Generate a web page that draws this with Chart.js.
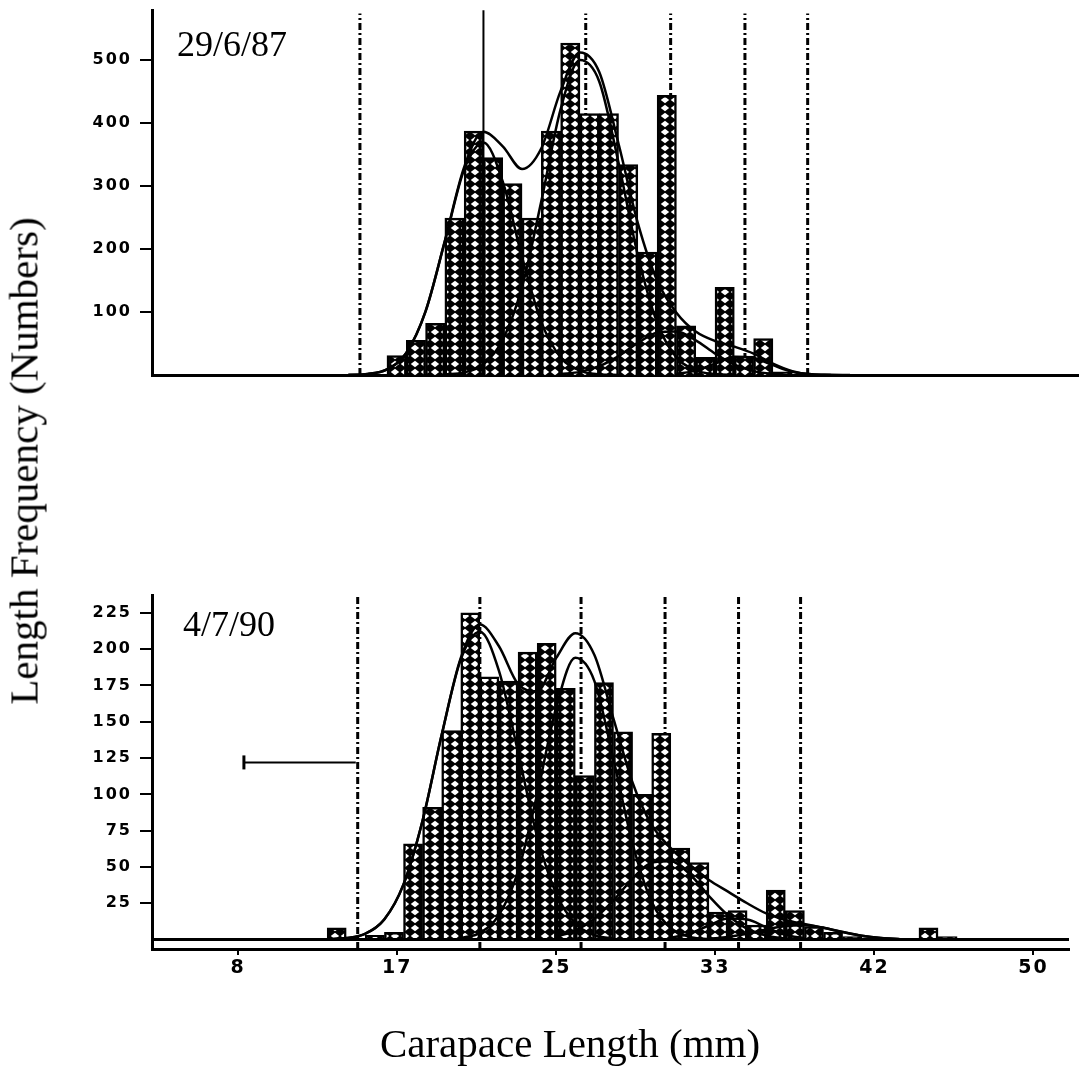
<!DOCTYPE html>
<html>
<head>
<meta charset="utf-8">
<script src="https://cdn.jsdelivr.net/npm/chart.js@4.4.1/dist/chart.umd.min.js"></script>
<style>
  body { margin: 0; background: #fff; width: 1079px; height: 1071px; position: relative; overflow: hidden; }
  canvas { position: absolute; left: 0; }
  #c87 { top: 0; }
  #c90 { top: 580px; }
  .txt { position: absolute; font-family: "Liberation Serif", "Times New Roman", serif; color: #000; line-height: 1; white-space: nowrap; }
</style>
</head>
<body>
<canvas id="c87" width="1079" height="400"></canvas>
<canvas id="c90" width="1079" height="491"></canvas>
<div class="txt" style="left:177px; top:26px; font-size:36px;">29/6/87</div>
<div class="txt" style="left:183px; top:606px; font-size:36px;">4/7/90</div>
<div class="txt" style="left:24px; top:461px; font-size:41px; transform: translate(-50%, -50%) rotate(-90deg);">Length Frequency (Numbers)</div>
<div class="txt" style="left:570px; top:1023px; font-size:41px; transform: translateX(-50%);">Carapace Length (mm)</div>
<script>
// length classes (mm, lower edge of each 1 mm class) and counts
const classes87 = [16, 17, 18, 19, 20, 21, 22, 23, 24, 25, 26, 27, 28, 29, 30, 31, 32, 33, 34, 35, 36];
const counts87  = [31, 55, 82, 249, 387, 345, 304, 249, 387, 527, 415, 415, 334, 195, 444, 78, 28, 139, 30, 58, 5];

const classes90 = [13, 15, 16, 17, 18, 19, 20, 21, 22, 23, 24, 25, 26, 27, 28, 29, 30, 31, 32, 33, 34, 35, 36, 37, 38, 39, 40, 41, 44, 45];
const counts90  = [8, 3, 5, 66, 91, 144, 225, 181, 178, 198, 204, 173, 113, 177, 143, 100, 142, 63, 53, 19, 20, 10, 34, 20, 9, 5, 2, 1, 8, 2];

// fitted normal components and their sum (1 mm steps)
const curveX87 = [14, 15, 16, 17, 18, 19, 20, 21, 22, 23, 24, 25, 26, 27, 28, 29, 30, 31, 32, 33, 34, 35, 36, 37, 38, 39, 40];
const fitA87 = [0.2, 1.7, 9, 35, 101, 212, 326, 369, 307, 187, 84, 28, 7, 1.2, 0, null, null, null, null, null, null, null, null, null, null, null, null];
const fitB87 = [null, null, null, null, null, 1, 4, 17, 56, 140, 276, 422, 500, 466, 337, 190, 83, 28, 7.5, 1.5, 0, null, null, null, null, null, null];
const fitC87 = [null, null, null, null, null, null, null, null, null, null, null, 1.4, 5, 14, 30, 51, 67, 69, 55, 34, 16.5, 6.2, 1.9, 0.4, null, null, null];
const fitD87 = [null, null, null, null, null, null, null, null, null, null, null, null, null, null, null, null, null, 1.6, 6.9, 18, 29, 27, 15.6, 5.3, 1.1, 0.1, null];
const fitSum87 = [0.3, 1.7, 9, 35, 101, 213, 330, 386, 363, 327, 360, 451, 512, 481, 367, 241, 150, 99, 69, 54, 45, 34, 18, 6, 1, 0.2, 0];

const curveX90 = [12, 13, 14, 15, 16, 17, 18, 19, 20, 21, 22, 23, 24, 25, 26, 27, 28, 29, 30, 31, 32, 33, 34, 35, 36, 37, 38, 39, 40, 41, 42, 43, 44, 45];
const fitA90 = [null, 0.2, 1, 4.1, 14, 38, 82, 141, 193, 212, 185, 129, 71, 31.5, 11, 3.1, 0.7, null, null, null, null, null, null, null, null, null, null, null, null, null, null, null, null, null];
const fitB90 = [null, null, null, null, null, null, null, null, 1, 4.6, 17, 47, 100, 160, 194, 178, 124, 66, 26, 8, 1.8, 0.3, null, null, null, null, null, null, null, null, null, null, null, null];
const fitC90 = [null, null, null, null, null, null, null, null, null, null, null, null, null, 2.1, 6.2, 14.4, 27, 42, 53, 54, 45, 30, 16.7, 7.4, 2.7, 0.8, null, null, null, null, null, null, null, null];
const fitD90 = [null, null, null, null, null, null, null, null, null, null, null, null, null, null, null, null, null, null, null, 1.1, 4.2, 9.7, 14.5, 13.8, 8.5, 3.3, 0.8, null, null, null, null, null, null, null];
const fitE90 = [null, null, null, null, null, null, null, null, null, null, null, null, null, null, null, null, null, null, null, null, null, 0.6, 1.8, 4, 7, 9.4, 9.9, 8.1, 5.2, 2.6, 1, 0.3, null, null];
const fitSum90 = [0, 0.2, 1, 4, 14, 38, 82, 141, 194, 217, 202, 176, 171, 194, 211, 196, 152, 108, 79, 63, 51, 41, 33, 25, 18, 13.5, 10.7, 8.1, 5.2, 2.6, 1, 0.3, 0, 0];

// dash-dot cohort lines (mm) and the range marker in the lower panel
const cohortLines = [14.6, 21.0, 26.3, 30.7, 34.55, 37.8];
const rangeMarkX = [8.64, 14.5];
const rangeMarkY = 122;

// axes
const xTicks = [8.333, 16.667, 25, 33.333, 41.667, 50];
const xTickLabels = ['8', '17', '25', '33', '42', '50'];
const yTicks87 = [100, 200, 300, 400, 500];
const yTicks90 = [25, 50, 75, 100, 125, 150, 175, 200, 225];
const xMin = 3.825, xMax = 51.86;

function hatch() {
  const t = document.createElement('canvas');
  t.width = 10; t.height = 8;
  const g = t.getContext('2d');
  g.fillStyle = '#000';
  g.fillRect(0, 0, 10, 8);
  g.fillStyle = '#fff';
  g.beginPath();
  g.moveTo(5, 0.8); g.lineTo(9.2, 4); g.lineTo(5, 7.2); g.lineTo(0.8, 4);
  g.closePath();
  g.fill();
  return g.createPattern(t, 'repeat');
}
const pattern = hatch();

function pts(xs, ys) {
  return xs.map((x, i) => ({ x: x, y: ys[i] }));
}

function barSet(cls, cnt) {
  return {
    type: 'bar',
    data: cls.map((c, i) => ({ x: c + 0.5, y: cnt[i] })),
    backgroundColor: pattern,
    borderColor: '#000',
    borderWidth: 2.5,
    barPercentage: 1,
    categoryPercentage: 1,
    order: 1
  };
}

function curve(xs, ys) {
  return {
    type: 'line', data: pts(xs, ys),
    borderColor: '#000', borderWidth: 2.5, pointRadius: 0,
    cubicInterpolationMode: 'monotone', spanGaps: false, order: 0
  };
}

function vline(x, lo, hi, solid) {
  return {
    type: 'line', data: [{ x: x, y: lo }, { x: x, y: hi }],
    borderColor: '#000', borderWidth: solid ? 2 : 3,
    borderDash: solid ? [] : [7, 3, 2, 3], pointRadius: 0, order: 2
  };
}

// wide look of the old plotter digits
const spacing = {
  id: 'spacing',
  beforeDraw(chart) { chart.ctx.letterSpacing = '2px'; },
  afterDraw(chart) { chart.ctx.letterSpacing = '0px'; }
};

function makeChart(id, datasets, yMin, yMax, yTicks, showX, padTop, xHeight) {
  return new Chart(document.getElementById(id), {
    type: 'bar',
    data: { datasets: datasets },
    options: {
      responsive: false,
      animation: false,
      devicePixelRatio: 1,
      layout: { padding: { top: padTop, left: 0, right: 0, bottom: 0 } },
      plugins: { legend: { display: false }, tooltip: { enabled: false } },
      scales: {
        x: {
          type: 'linear', min: xMin, max: xMax, offset: false,
          afterBuildTicks: s => { s.ticks = xTicks.map(v => ({ value: v })); },
          afterFit: s => { s.height = xHeight; s.paddingLeft = 0; s.paddingRight = 0; },
          ticks: {
            display: showX, autoSkip: false, maxRotation: 0, padding: 2, color: '#000',
            font: { family: 'DejaVu Sans', weight: 'bold', size: 19 },
            callback: (v, i) => xTickLabels[i]
          },
          grid: { display: true, drawOnChartArea: false, drawTicks: showX, tickLength: 6, color: '#000', lineWidth: 2, offset: false },
          border: { display: true, color: '#000', width: 3 }
        },
        y: {
          min: yMin, max: yMax,
          afterBuildTicks: s => { s.ticks = yTicks.map(v => ({ value: v })); },
          afterFit: s => { s.width = 152; s.paddingTop = 0; s.paddingBottom = 0; },
          ticks: {
            padding: 8, color: '#000',
            font: { family: 'DejaVu Sans', weight: 'bold', size: 16 },
            callback: v => String(v)
          },
          grid: { drawOnChartArea: false, tickLength: 12, color: '#000', lineWidth: 2 },
          border: { display: true, color: '#000', width: 3 }
        }
      }
    },
    plugins: [spacing]
  });
}

// upper panel 29/6/87
const top87 = [
  barSet(classes87, counts87),
  curve(curveX87, fitA87), curve(curveX87, fitB87), curve(curveX87, fitC87),
  curve(curveX87, fitD87), curve(curveX87, fitSum87)
];
cohortLines.forEach((x, i) => top87.push(vline(x, 0, i === 1 ? 579 : 574, i === 1)));
makeChart('c87', top87, 0, 579.4, yTicks87, false, 10, 25);

// lower panel 4/7/90
const low90 = [
  barSet(classes90, counts90),
  curve(curveX90, fitA90), curve(curveX90, fitB90), curve(curveX90, fitC90),
  curve(curveX90, fitD90), curve(curveX90, fitE90), curve(curveX90, fitSum90),
  { type: 'line', data: [{ x: xMin, y: 0 }, { x: xMax, y: 0 }], borderColor: '#000', borderWidth: 3, pointRadius: 0, order: 0 },
  { type: 'line', data: rangeMarkX.map(x => ({ x: x, y: rangeMarkY })), borderColor: '#000', borderWidth: 2,
    pointStyle: 'line', rotation: 90, pointRadius: [7, 0], pointBorderWidth: 3, order: 0 }
];
cohortLines.forEach(x => low90.push(vline(x, -6.5, 236, false)));
makeChart('c90', low90, -6.5, 237.3, yTicks90, true, 15, 122);
</script>
</body>
</html>
